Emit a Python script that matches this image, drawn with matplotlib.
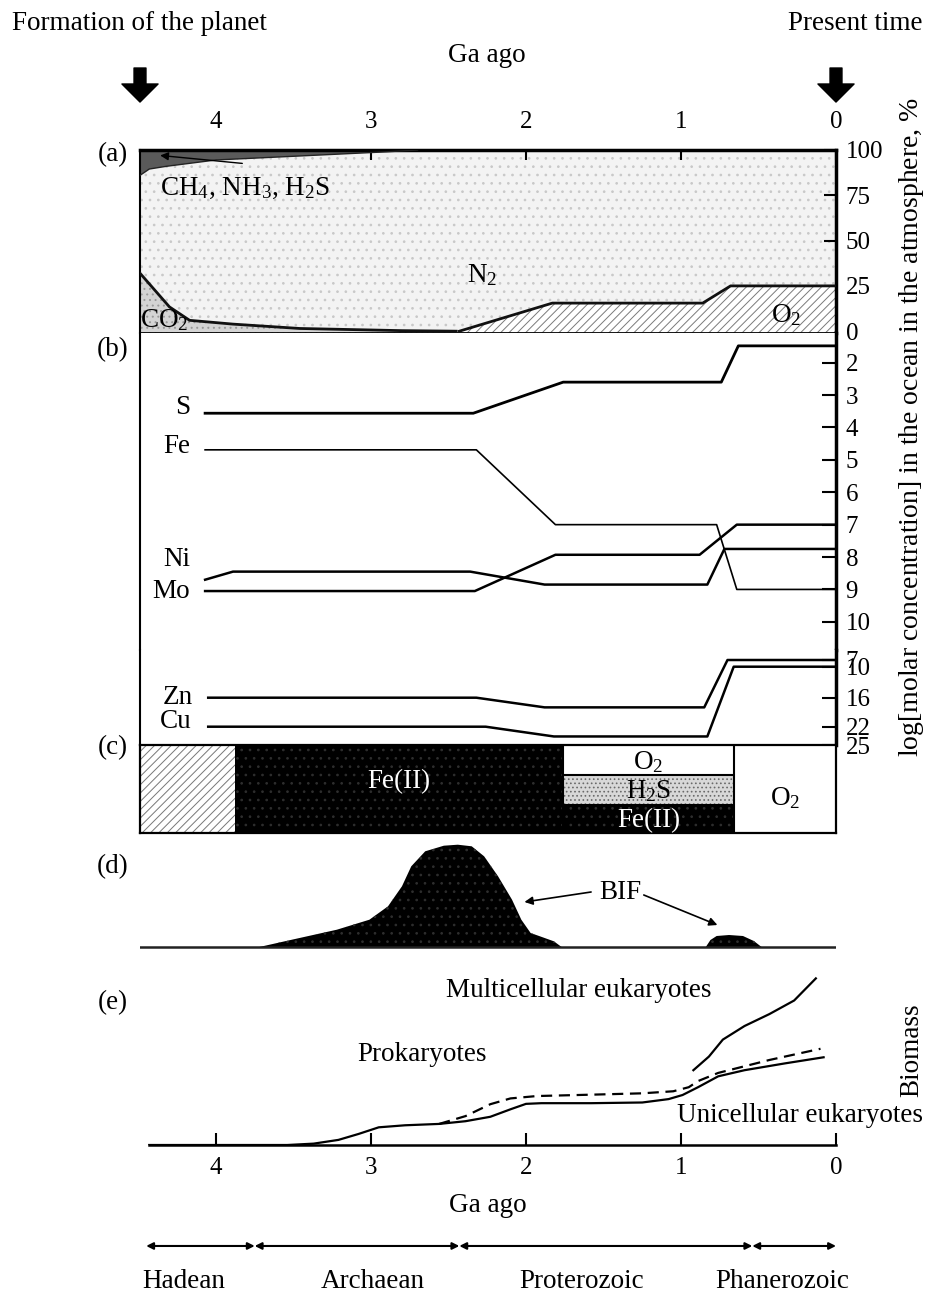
import numpy as np
import matplotlib
matplotlib.use('Agg')
import matplotlib.pyplot as plt

plt.rcParams['font.family'] = ['Liberation Serif', 'DejaVu Serif']
plt.rcParams['mathtext.fontset'] = 'custom'
plt.rcParams['mathtext.rm'] = 'Liberation Serif'
plt.rcParams['mathtext.it'] = 'Liberation Serif:italic'
plt.rcParams['mathtext.bf'] = 'Liberation Serif:bold'
plt.rcParams['hatch.linewidth'] = 0.7

FS = 19.5      # labels
FT = 18        # tick labels

# ------------------------------------------------------------------ data
GA_OLD = 4.49
ga_ticks = [4, 3, 2, 1, 0]
ga_labels = ['4', '3', '2', '1', '0']

# (a) atmosphere composition, %
atm_ticks = [0, 25, 50, 75, 100]
ch4_ga = [4.49, 4.43, 4.32, 4.0, 3.46, 2.9, 2.7]
ch4_low = [86, 89.5, 91, 94.5, 96.7, 99, 100]
co2_ga = [4.49, 4.3, 4.17, 3.89, 3.46, 2.8, 2.45]
co2_top = [32, 13.4, 6, 3.9, 1.5, 0.3, 0]
o2_ga = [2.43, 1.83, 0.86, 0.68, 0.0]
o2_top = [0, 15.5, 15.5, 25, 25]

# (b) log molar concentration in the ocean
conc_ticks = [2, 3, 4, 5, 6, 7, 8, 9, 10]
s_ga = [4.07, 2.34, 1.76, 0.74, 0.63, 0.0]
s_val = [3.56, 3.56, 2.6, 2.6, 1.48, 1.48]
fe_ga = [4.07, 2.32, 1.81, 0.77, 0.64, 0.0]
fe_val = [4.69, 4.69, 7.0, 7.0, 9.0, 9.0]
ni_ga = [4.07, 3.89, 2.36, 1.88, 0.83, 0.72, 0.0]
ni_val = [8.7, 8.45, 8.45, 8.85, 8.85, 7.75, 7.75]
mo_ga = [4.07, 2.33, 1.81, 0.88, 0.64, 0.0]
mo_val = [9.05, 9.05, 7.93, 7.93, 7.0, 7.0]

zn_ticks = [7, 10, 16, 22, 25]
zn_scale_vals = [4, 7, 10, 16, 22, 25]
zn_scale_pos = [0, 10, 16.7, 47.7, 76.7, 95]
zn_ga = [4.05, 2.32, 1.88, 0.85, 0.70, 0.0]
zn_val = [16, 16, 18, 18, 7, 7]
cu_ga = [4.05, 2.26, 1.82, 0.83, 0.66, 0.0]
cu_val = [22, 22, 23.6, 23.6, 10, 10]

# (c) ocean redox state
ocean_edges = [4.49, 3.88, 1.76, 0.66, 0.0]
strat_layers = [0.0, 0.95, 1.98, 3.0]

# (d) banded iron formations
bif1_ga = [3.72, 3.51, 3.22, 3.01, 2.89, 2.80, 2.74, 2.65, 2.53, 2.44,
           2.35, 2.27, 2.18, 2.09, 2.03, 1.97, 1.91, 1.82, 1.77]
bif1_h = [0, 7.3, 17.3, 27.3, 40.7, 60.7, 80.7, 95.7, 101.3, 102.3,
          100.7, 90.7, 70.7, 47.3, 27.3, 14, 10.7, 5.7, 0]
bif2_ga = [0.84, 0.81, 0.77, 0.69, 0.60, 0.53, 0.48]
bif2_h = [0, 7, 11, 12, 11, 6, 0]

# (e) biomass
pro_ga = [4.43, 3.54, 3.37, 3.21, 3.08, 2.95, 2.78, 2.56, 2.39, 2.23, 2.10,
          2.00, 1.90, 1.58, 1.25, 1.08, 0.99, 0.89, 0.76, 0.59, 0.33, 0.08]
pro_val = [0, 0, 0.8, 3, 6.5, 10.4, 11.6, 12.4, 14, 16.6, 21,
           24.2, 24.6, 24.6, 25, 27, 29.4, 34, 40.4, 44, 48, 51.6]
uni_ga = [2.56, 2.39, 2.23, 2.10, 1.93, 1.58, 1.25, 1.05, 0.95, 0.89, 0.76, 0.43, 0.10]
uni_val = [12.4, 17, 24, 27.4, 28.8, 29.6, 30.4, 31.6, 34, 37.6, 42.4, 50, 56.6]
mul_ga = [0.92, 0.82, 0.73, 0.59, 0.43, 0.27, 0.13]
mul_val = [44, 52, 62, 70, 77, 85, 98]

# eras
era_names = ['Hadean', 'Archaean', 'Proterozoic', 'Phanerozoic']
era_edges = [4.45, 3.75, 2.43, 0.54, 0.0]
era_label_ga = [4.21, 2.99, 1.64, 0.35]

# ------------------------------------------------------------------ figure
W, H = 932, 1292
fig = plt.figure(figsize=(W / 100, H / 100), dpi=100)


def rect(x0, y0, x1, y1):
    return [x0 / W, 1 - y1 / H, (x1 - x0) / W, (y1 - y0) / H]


XL = (GA_OLD, 0)

# ---------------- (a)
ax = fig.add_axes(rect(140, 150, 836, 333))
ax.set_xlim(*XL)
ax.set_ylim(-1, 100)
ax.fill_between([GA_OLD, 0], -1, 100, facecolor='#f3f3f3', edgecolor='#c8c8c8',
                hatch='..', lw=0, zorder=0)
ax.fill_between(ch4_ga, ch4_low, 100, facecolor='#5a5a5a', lw=0, zorder=2)
ax.plot(ch4_ga, ch4_low, color='#222222', lw=1, zorder=3)
ax.fill_between(co2_ga, -1, co2_top, facecolor='#d4d4d4', edgecolor='#9a9a9a',
                hatch='...', lw=0, zorder=2)
ax.plot(co2_ga, co2_top, color='#111111', lw=2, zorder=3)
ax.fill_between(o2_ga, -1, o2_top, facecolor='white', edgecolor='#7a7a7a',
                hatch='////', lw=0, zorder=2)
ax.plot(o2_ga, o2_top, color='#111111', lw=2, zorder=3)
ax.set_xticks(ga_ticks)
ax.set_xticklabels(ga_labels)
ax.xaxis.tick_top()
ax.tick_params(axis='x', direction='in', length=7, width=1.5, pad=12, labelsize=FT)
ax.yaxis.tick_right()
ax.set_yticks(atm_ticks)
ax.tick_params(axis='y', direction='in', length=9, width=1.5, pad=7, labelsize=FT)
ax.spines['top'].set_linewidth(2.5)
ax.spines['right'].set_linewidth(2.5)
ax.spines['left'].set_linewidth(1.5)
ax.spines['bottom'].set_linewidth(2)
ax.text(4.36, 78.6, r'CH$_4$, NH$_3$, H$_2$S', fontsize=FS, ha='left', va='center', zorder=5)
ax.annotate('', xy=(4.36, 97), xytext=(3.83, 92.6),
            arrowprops=dict(arrowstyle='-|>', color='black', lw=1, mutation_scale=12,
                            shrinkA=0, shrinkB=0), zorder=5)
ax.text(2.28, 31, r'N$_2$', fontsize=FS, ha='center', va='center', zorder=5)
ax.text(4.49, 6, r'CO$_2$', fontsize=FS, ha='left', va='center', zorder=5)
ax.text(0.32, 8.8, r'O$_2$', fontsize=FS, ha='center', va='center', zorder=5)

# big arrows: formation of the planet / present time
for g in (GA_OLD, 0.0):
    ax.annotate('', xy=(g, 1.262), xytext=(g, 1.448),
                xycoords=('data', 'axes fraction'), textcoords=('data', 'axes fraction'),
                annotation_clip=False,
                arrowprops=dict(arrowstyle='simple,head_width=1.3,head_length=0.65,tail_width=0.43',
                                color='black', mutation_scale=20, shrinkA=0, shrinkB=0))

# ---------------- (b) upper
bx = fig.add_axes(rect(140, 333, 836, 650))
bx.set_xlim(*XL)
bx.set_ylim(10.87, 1.083)
bx.plot(s_ga, s_val, color='black', lw=2)
bx.plot(fe_ga, fe_val, color='black', lw=1.2)
bx.plot(ni_ga, ni_val, color='black', lw=1.8)
bx.plot(mo_ga, mo_val, color='black', lw=1.8)
bx.set_xticks([])
bx.yaxis.tick_right()
bx.set_yticks(conc_ticks)
bx.tick_params(axis='y', direction='in', length=10, width=1.5, pad=7, labelsize=FT)
bx.spines['bottom'].set_visible(False)
bx.spines['top'].set_visible(False)
bx.spines['right'].set_linewidth(2.5)
bx.spines['left'].set_linewidth(1.5)
for lab, v in zip(['S', 'Fe', 'Ni', 'Mo'], [3.37, 4.59, 8.09, 9.07]):
    bx.text(4.168, v, lab, fontsize=FS, ha='right', va='center')

# ---------------- (b) lower (Zn, Cu)
def zn_fwd(v):
    return np.interp(v, zn_scale_vals, zn_scale_pos)


def zn_inv(p):
    return np.interp(p, zn_scale_pos, zn_scale_vals)


b2 = fig.add_axes(rect(140, 650, 836, 745))
b2.set_xlim(*XL)
b2.set_yscale('function', functions=(zn_fwd, zn_inv))
b2.set_ylim(25, 4)
b2.plot(zn_ga, zn_val, color='black', lw=1.8)
b2.plot(cu_ga, cu_val, color='black', lw=1.8)
b2.set_xticks([])
b2.yaxis.tick_right()
b2.set_yticks(zn_ticks)
b2.set_yticklabels([str(t) for t in zn_ticks])
b2.yaxis.set_minor_locator(matplotlib.ticker.NullLocator())
b2.tick_params(axis='y', direction='in', length=10, width=1.5, pad=7, labelsize=FT)
b2.spines['top'].set_visible(False)
b2.spines['bottom'].set_visible(False)
b2.spines['right'].set_linewidth(2.5)
b2.spines['left'].set_linewidth(1.5)
b2.text(4.15, 15.9, 'Zn', fontsize=FS, ha='right', va='center')
b2.text(4.16, 20.97, 'Cu', fontsize=FS, ha='right', va='center')

# ---------------- (c)
cx = fig.add_axes(rect(140, 745, 836, 833))
cx.set_xlim(*XL)
cx.set_ylim(0, 3)
e = ocean_edges
L = strat_layers
cx.fill_between([e[0], e[1]], 0, 3, facecolor='white', edgecolor='#777777', hatch='////', lw=0)
cx.fill_between([e[1], e[2]], 0, 3, facecolor='black', edgecolor='#2e2e2e', hatch='..', lw=0)
cx.fill_between([e[2], e[3]], L[0], L[1], facecolor='black', edgecolor='#2e2e2e', hatch='..', lw=0)
cx.fill_between([e[2], e[3]], L[1], L[2], facecolor='#d8d8d8', edgecolor='#6a6a6a', hatch='....', lw=0)
cx.hlines([L[1], L[2]], e[2], e[3], color='black', lw=1.5)
cx.vlines([e[2], e[3]], 0, 3, color='black', lw=1.5)
cx.set_xticks([])
cx.set_yticks([])
for s in cx.spines.values():
    s.set_linewidth(1.6)
cx.text((e[1] + e[2]) / 2, 1.75, 'Fe(II)', color='white', fontsize=FS, ha='center', va='center')
mid = (e[2] + e[3]) / 2
cx.text(mid, 2.42, r'O$_2$', fontsize=FS, ha='center', va='center')
cx.text(mid, 1.42, r'H$_2$S', fontsize=FS, ha='center', va='center')
cx.text(mid, 0.42, 'Fe(II)', color='white', fontsize=FS, ha='center', va='center')
cx.text((e[3] + e[4]) / 2, 1.2, r'O$_2$', fontsize=FS, ha='center', va='center')

# ---------------- (d)
dx = fig.add_axes(rect(140, 840, 836, 950))
dx.set_xlim(*XL)
dx.set_ylim(-3, 107)
dx.fill_between(bif1_ga, 0, bif1_h, facecolor='black', edgecolor='#2e2e2e', hatch='..', lw=0)
dx.fill_between(bif2_ga, 0, bif2_h, facecolor='black', edgecolor='#2e2e2e', hatch='..', lw=0)
dx.axhline(0, color='#222222', lw=1.8)
dx.axis('off')
dx.text(1.39, 55, 'BIF', fontsize=FS, ha='center', va='center')
dx.annotate('', xy=(2.01, 45), xytext=(1.58, 55),
            arrowprops=dict(arrowstyle='-|>', color='black', lw=1.2, mutation_scale=12,
                            shrinkA=0, shrinkB=0))
dx.annotate('', xy=(0.765, 22), xytext=(1.24, 52),
            arrowprops=dict(arrowstyle='-|>', color='black', lw=1.2, mutation_scale=12,
                            shrinkA=0, shrinkB=0))

# ---------------- (e)
ex = fig.add_axes(rect(140, 975, 836, 1145))
ex.set_xlim(*XL)
ex.set_ylim(0, 100)
ex.plot(pro_ga, pro_val, color='black', lw=1.6)
ex.plot(uni_ga, uni_val, color='black', lw=1.6, ls=(0, (5, 3)))
ex.plot(mul_ga, mul_val, color='black', lw=1.6)
for s in ['top', 'left', 'right']:
    ex.spines[s].set_visible(False)
ex.spines['bottom'].set_bounds(4.43, 0)
ex.spines['bottom'].set_linewidth(1.8)
ex.set_yticks([])
ex.set_xticks(ga_ticks)
ex.set_xticklabels(ga_labels)
ex.tick_params(axis='x', direction='in', length=9, width=1.5, pad=9, labelsize=FT)
ex.patch.set_visible(False)
ex.text(1.66, 91, 'Multicellular eukaryotes', fontsize=FS, ha='center', va='center')
ex.text(2.67, 53, 'Prokaryotes', fontsize=FS, ha='center', va='center')
ex.text(0.235, 17.6, 'Unicellular eukaryotes', fontsize=FS, ha='center', va='center')

# ---------------- eras
rx = fig.add_axes(rect(140, 1232, 836, 1292))
rx.set_xlim(*XL)
rx.set_ylim(0, 1)
rx.axis('off')
for i, name in enumerate(era_names):
    a, b = era_edges[i], era_edges[i + 1]
    rx.annotate('', xy=(b, 0.767), xytext=(a, 0.767), annotation_clip=False,
                arrowprops=dict(arrowstyle='<|-|>', color='black', lw=1.5, mutation_scale=10,
                                shrinkA=0, shrinkB=0))
    rx.text(era_label_ga[i], 0.17, name, fontsize=FS, ha='center', va='center')

# ---------------- figure-level texts
fig.text(12 / W, 1 - 23 / H, 'Formation of the planet', fontsize=FS, ha='left', va='center')
fig.text(923 / W, 1 - 23 / H, 'Present time', fontsize=FS, ha='right', va='center')
fig.text(487 / W, 1 - 55 / H, 'Ga ago', fontsize=FS, ha='center', va='center')
fig.text(488 / W, 1 - 1205 / H, 'Ga ago', fontsize=FS, ha='center', va='center')
fig.text(912 / W, 1 - 427 / H, r'log[molar concentration] in the ocean in the atmosphere, $\mathit{\%}$',
         fontsize=20, rotation=90, ha='center', va='center')
fig.text(912 / W, 1 - 1050 / H, 'Biomass', fontsize=FS, rotation=90, ha='center', va='center')
for lab, y in zip(['(a)', '(b)', '(c)', '(d)', '(e)'], [155, 350, 748, 867, 1003]):
    fig.text(113 / W, 1 - y / H, lab, fontsize=FS, ha='center', va='center')

fig.savefig('out.png', dpi=100)
